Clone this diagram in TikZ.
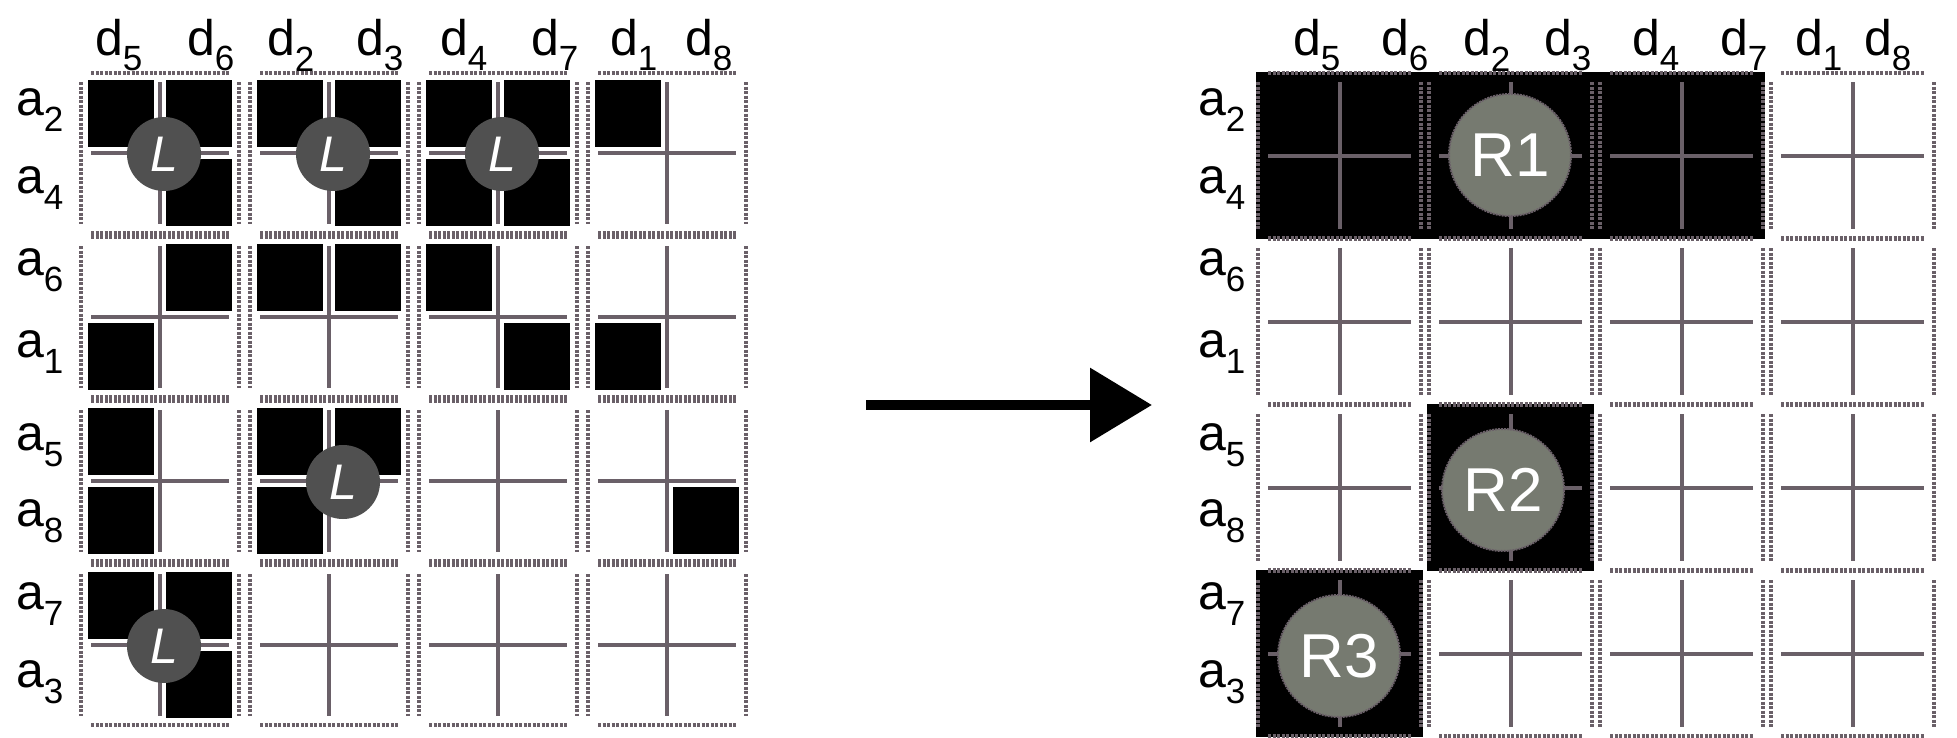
\documentclass[tikz,border=0pt]{standalone}
\usepackage{fontspec}
\setmainfont{Liberation Sans}
\usetikzlibrary{arrows.meta}
\definecolor{crossc}{HTML}{6A6068}
\definecolor{lcirc}{HTML}{505050}
\definecolor{rcirc}{HTML}{767A70}
\tikzset{
  cross/.style={draw=crossc,line width=4pt},
  brd/.style={draw=crossc,line width=3.5pt,dash pattern=on 3pt off 1.5pt},
  blk/.style={fill=black},
  lab/.style={font=\fontsize{50}{50}\selectfont,inner sep=0pt},
  lc/.style={circle,fill=lcirc,minimum size=74pt,inner sep=0pt,text=white,font=\fontsize{50}{50}\selectfont\itshape},
  rc/.style={circle,fill=rcirc,draw=crossc,dash pattern=on 2pt off 1pt,line width=2pt,minimum size=122pt,inner sep=0pt,text=white,font=\fontsize{62}{62}\selectfont},
}
% #1 x, #2 y, #3 size
\newcommand\mycell[3]{%
  \draw[brd] (#1+6,#2-5) -- (#1+#3-6,#2-5);
  \draw[brd] (#1+6,#2+#3+5) -- (#1+#3-6,#2+#3+5);
  \draw[brd] (#1-4,#2+4) -- (#1-4,#2+#3-4);
  \draw[brd] (#1+#3+4,#2+4) -- (#1+#3+4,#2+#3-4);
}
\newcommand\mycross[3]{%
  \draw[cross] (#1+6,#2+#3/2) -- (#1+#3-6,#2+#3/2);
  \draw[cross] (#1+#3/2,#2+4) -- (#1+#3/2,#2+#3-4);
}
% quadrant: #1 x #2 y #3 size, #4 qx(0/1) #5 qy(0/1)
\newcommand\myquad[5]{%
  \fill[blk] (#1+#4*#3/2+#4*6+3-#4*3,#2+#5*#3/2+#5*6+2-#5*2) rectangle ++(#3/2-9,#3/2-8);
}
\begin{document}
\begin{tikzpicture}[x=1pt,y=-1pt]
\useasboundingbox (0,0) rectangle (1957,737);
% ---------- left grid ----------
\def\LX{85}\def\LP{169}\def\LS{150}\def\LY{78}\def\LQ{164}
\foreach \i in {0,...,3}{\foreach \j in {0,...,3}{
  \pgfmathsetmacro\xx{\LX+\LP*\i}\pgfmathsetmacro\yy{\LY+\LQ*\j}
  \mycell{\xx}{\yy}{\LS}
}}
% black quadrants: list i/j/qx/qy
\foreach \i/\j/\qx/\qy in {0/0/0/0,0/0/1/0,0/0/1/1, 1/0/0/0,1/0/1/0,1/0/1/1,
  2/0/0/0,2/0/1/0,2/0/0/1,2/0/1/1, 3/0/0/0,
  0/1/1/0,0/1/0/1, 1/1/0/0,1/1/1/0, 2/1/0/0,2/1/1/1, 3/1/0/1,
  0/2/0/0,0/2/0/1, 1/2/0/0,1/2/1/0,1/2/0/1, 3/2/1/1,
  0/3/0/0,0/3/1/0,0/3/1/1}{
  \pgfmathsetmacro\xx{\LX+\LP*\i}\pgfmathsetmacro\yy{\LY+\LQ*\j}
  \myquad{\xx}{\yy}{\LS}{\qx}{\qy}
}
\foreach \i in {0,...,3}{\foreach \j in {0,...,3}{
  \pgfmathsetmacro\xx{\LX+\LP*\i}\pgfmathsetmacro\yy{\LY+\LQ*\j}
  \mycross{\xx}{\yy}{\LS}
}}
\node[lc] (L1) at (85+75+4,78+76) {L};
\node[lc] (L2) at (254+75+4,78+76) {L};
\node[lc] (L3) at (423+75+4,78+76) {L};
\node[lc] (L4) at (254+75+14,406+76) {L};
\node[lc] (L5) at (85+75+4,570+76) {L};
% labels left
\foreach \t/\x [count=\k] in {5/119,6/211,2/291,3/380,4/464,7/555,1/634,8/709}
  \node[lab] (ld\k) at (\x,45) {d\textsubscript{\t}};
\foreach \t/\y [count=\k] in {2/110,4/188,6/270,1/352,5/445,8/521,7/604,3/682}
  \node[lab] (la\k) at (40,\y) {a\textsubscript{\t}};
% ---------- arrow ----------
\coordinate (As) at (866,405);
\coordinate (Ae) at (1152,405);
\draw[line width=10pt,-{Triangle[length=62pt,width=72pt]}] (As) -- (Ae);
% ---------- right grid ----------
\def\RX{1262}\def\RP{171}\def\RS{155}\def\RY{78}\def\RQ{166}
\fill[blk] (1262-6,78-6) rectangle (1262+2*171+155+6,78+155+6);
\fill[blk] (1262+171-6,78+2*166-6) rectangle (1262+171+155+6,78+2*166+155+6);
\fill[blk] (1262-6,78+3*166-6) rectangle (1262+155+6,78+3*166+155+6);
\foreach \i in {0,...,3}{\foreach \j in {0,...,3}{
  \pgfmathsetmacro\xx{\RX+\RP*\i}\pgfmathsetmacro\yy{\RY+\RQ*\j}
  \mycell{\xx}{\yy}{\RS}
  \mycross{\xx}{\yy}{\RS}
}}
\node[rc] (R1) at (1262+171+77,78+77) {R1};
\node[rc] (R2) at (1262+171+70,78+2*166+80) {R2};
\node[rc] (R3) at (1262+77,78+3*166+80) {R3};
\foreach \t/\x [count=\k] in {5/1317,6/1405,2/1487,3/1568,4/1656,7/1744,1/1819,8/1888}
  \node[lab] (rd\k) at (\x,45) {d\textsubscript{\t}};
\foreach \t/\y [count=\k] in {2/110,4/188,6/270,1/352,5/445,8/521,7/604,3/682}
  \node[lab] (ra\k) at (1222,\y) {a\textsubscript{\t}};
\end{tikzpicture}
\end{document}
